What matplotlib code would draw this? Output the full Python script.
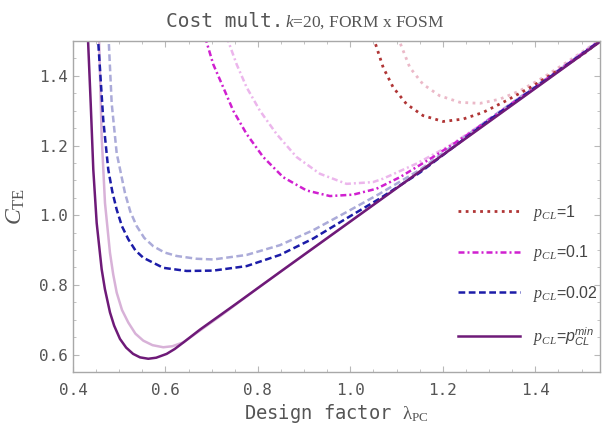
import matplotlib
matplotlib.use("Agg")
import matplotlib.pyplot as plt
from matplotlib.ticker import MultipleLocator

plt.rcParams['mathtext.fontset'] = 'custom'
plt.rcParams['mathtext.rm'] = 'Liberation Serif'
plt.rcParams['mathtext.it'] = 'Liberation Serif:italic'
plt.rcParams['mathtext.tt'] = 'DejaVu Sans Mono'
plt.rcParams['mathtext.sf'] = 'Liberation Sans:italic'

# values (lambda_PC, C_TE)
# p_CL = p_CL^min
lam_min = [0.431, 0.4383, 0.4439, 0.4512, 0.462, 0.469, 0.480, 0.489, 0.5016, 0.515, 0.530, 0.545,
           0.5628, 0.580, 0.6026, 0.620, 0.640, 0.675, 0.75, 0.85, 1.0, 1.2, 1.4, 1.56]
c_min = [1.55, 1.321, 1.131, 0.978, 0.845, 0.788, 0.721, 0.683, 0.645, 0.620, 0.602, 0.592,
         0.588, 0.591, 0.602, 0.616, 0.636, 0.672, 0.743, 0.839, 0.982, 1.173, 1.364, 1.517]
lam_min_b = [0.4555, 0.462, 0.4692, 0.480, 0.487, 0.4945, 0.506, 0.5196, 0.535, 0.552, 0.572,
             0.5953, 0.615, 0.6385, 0.6746, 0.72, 0.80, 0.90, 1.1, 1.3, 1.56]
c_min_b = [1.55, 1.226, 1.035, 0.892, 0.830, 0.778, 0.728, 0.692, 0.660, 0.640, 0.627,
           0.621, 0.624, 0.635, 0.669, 0.712, 0.791, 0.887, 1.078, 1.269, 1.517]

# p_CL = 0.02
lam_002 = [0.452, 0.4655, 0.4763, 0.485, 0.4945, 0.506, 0.5196, 0.535, 0.552, 0.5953, 0.6458,
           0.7034, 0.7756, 0.8476, 0.9196, 0.9918, 1.0638, 1.15, 1.3, 1.45, 1.56]
c_002 = [1.55, 1.273, 1.131, 1.068, 1.016, 0.968, 0.931, 0.899, 0.878, 0.849, 0.840,
         0.841, 0.854, 0.886, 0.933, 0.991, 1.048, 1.122, 1.273, 1.414, 1.519]
lam_002_b = [0.4755, 0.4837, 0.4945, 0.5124, 0.524, 0.5377, 0.554, 0.5736, 0.598, 0.6242,
             0.6674, 0.7034, 0.7756, 0.8476, 0.9196, 0.9918, 1.0638, 1.15, 1.3, 1.45, 1.56]
c_002_b = [1.55, 1.321, 1.178, 1.064, 1.010, 0.969, 0.935, 0.911, 0.893, 0.883,
           0.875, 0.873, 0.886, 0.914, 0.957, 1.009, 1.062, 1.130, 1.276, 1.416, 1.52]

# p_CL = 0.1
lam_01 = [0.677, 0.7034, 0.725, 0.7466, 0.7756, 0.8115, 0.8547, 0.9053, 0.9557, 1.006,
          1.0566, 1.107, 1.179, 1.25, 1.4, 1.56]
c_01 = [1.55, 1.433, 1.367, 1.300, 1.233, 1.167, 1.109, 1.071, 1.055, 1.059,
        1.076, 1.109, 1.167, 1.228, 1.367, 1.52]
lam_01_b = [0.722, 0.754, 0.7756, 0.8043, 0.8404, 0.8836, 0.934, 0.9918, 1.049, 1.071,
            1.143, 1.215, 1.3, 1.45, 1.56]
c_01_b = [1.55, 1.433, 1.367, 1.300, 1.233, 1.167, 1.119, 1.090, 1.095, 1.105,
          1.148, 1.200, 1.275, 1.418, 1.522]

# p_CL = 1
lam_1 = [1.040, 1.071, 1.0925, 1.1215, 1.157, 1.2006, 1.2439, 1.287, 1.3377, 1.395,
         1.453, 1.5034, 1.56]
c_1 = [1.55, 1.424, 1.367, 1.319, 1.286, 1.269, 1.276, 1.295, 1.329, 1.371,
       1.419, 1.462, 1.52]
lam_1_b = [1.091, 1.1286, 1.157, 1.193, 1.2368, 1.28, 1.323, 1.3665, 1.4169, 1.467,
           1.52, 1.56]
c_1_b = [1.55, 1.424, 1.376, 1.343, 1.324, 1.321, 1.333, 1.357, 1.395, 1.438,
         1.485, 1.52]

labels = [r"$p_{CL}$=1", r"$p_{CL}$=0.1", r"$p_{CL}$=0.02",
          r"$p_{CL}$=$\mathsf{p}_{\mathsf{CL}}^{\mathsf{min}}$"]

fig = plt.figure(figsize=(6.02, 4.28), dpi=100)
ax = fig.add_axes([73 / 602, 56 / 428, 527 / 602, 331 / 428])

dot = (1, 1.6)
dash = (2.7, 1.4)
dashdot = (2.4, 1.2, 0.8, 1.2)

# light (FOSM) curves underneath
ax.plot(lam_1_b, c_1_b, color='#ebb9c8', lw=2, dashes=dot)
ax.plot(lam_01_b, c_01_b, color='#ecb6ec', lw=1.8, dashes=dashdot)
ax.plot(lam_002_b, c_002_b, color='#ababd9', lw=1.8, dashes=dash)
ax.plot(lam_min_b, c_min_b, color='#d8b2d8', lw=1.8)

l1, = ax.plot(lam_1, c_1, color='#b03535', lw=2, dashes=dot)
l2, = ax.plot(lam_01, c_01, color='#d020d0', lw=1.8, dashes=dashdot)
l3, = ax.plot(lam_002, c_002, color='#1c1ca8', lw=1.8, dashes=dash)
l4, = ax.plot(lam_min, c_min, color='#6e1a78', lw=1.8)

ax.set_xlim(0.4, 1.54)
ax.set_ylim(0.55, 1.5)
ax.xaxis.set_major_locator(MultipleLocator(0.2))
ax.xaxis.set_minor_locator(MultipleLocator(0.05))
ax.yaxis.set_major_locator(MultipleLocator(0.2))
ax.yaxis.set_minor_locator(MultipleLocator(0.05))
ax.tick_params(which='both', direction='in', top=True, right=True, color='#b8b8b8',
               labelcolor='#555555', labelsize=11.5)
ax.tick_params(axis='x', pad=8)
ax.tick_params(axis='y', pad=4)
ax.tick_params(which='major', length=4)
ax.tick_params(which='minor', length=2)
for lab in ax.get_xticklabels() + ax.get_yticklabels():
    lab.set_family('DejaVu Sans Mono')
for s in ax.spines.values():
    s.set_color('#a8a8a8')
    s.set_linewidth(1)

ax.set_xlabel(r"Design factor $\mathrm{\lambda}_{\mathrm{PC}}$", family='DejaVu Sans Mono',
              fontsize=13.5, color='#555555', labelpad=3)
ax.set_ylabel(r"$C_{\mathrm{TE}}$", fontsize=17, color='#555555', labelpad=8)

fig.text(283 / 602, 1 - 27 / 428, "Cost mult.", family='DejaVu Sans Mono', fontsize=14,
         color='#555555', ha='right', va='baseline')
fig.text(285 / 602, 1 - 27 / 428, r"$k$=20, FORM x FOSM", family='Liberation Serif',
         fontsize=12.5, color='#555555', ha='left', va='baseline')

ax.legend([l1, l2, l3, l4], labels, loc='upper left', bbox_to_anchor=(0.7306, 0.512),
          frameon=False, handlelength=3.9, handletextpad=0.8,
          labelspacing=1.3, borderpad=0, borderaxespad=0, labelcolor='#444444',
          prop={'family': 'Liberation Sans', 'size': 11.5})

fig.savefig("out.png", dpi=100)
